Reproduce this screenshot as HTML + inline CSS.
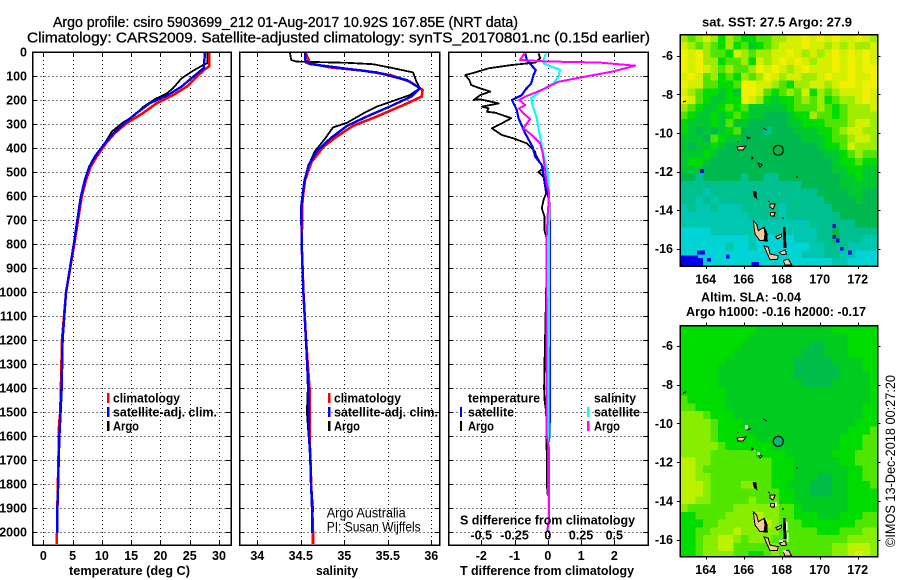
<!DOCTYPE html>
<html>
<head>
<meta charset="utf-8">
<title>Argo profile</title>
<style>
html,body{margin:0;padding:0;background:#fff;width:900px;height:580px;overflow:hidden}
svg{display:block}
text{font-family:"Liberation Sans",sans-serif;fill:#000}
.b{font-weight:bold;font-size:12.5px}
.t{font-size:14.5px;stroke:#000;stroke-width:.3px}
.r{font-size:13.5px}
.frame{fill:none;stroke:#000;stroke-width:1.5;shape-rendering:crispEdges}
</style>
</head>
<body>
<svg id="chart" xmlns="http://www.w3.org/2000/svg" width="900" height="580" viewBox="0 0 900 580">
  <text class="t" x="53" y="27" textLength="465" lengthAdjust="spacingAndGlyphs">Argo profile: csiro 5903699_212 01-Aug-2017 10.92S 167.85E (NRT data)</text>
  <text class="t" x="27" y="42.5" textLength="623" lengthAdjust="spacingAndGlyphs">Climatology: CARS2009. Satellite-adjusted climatology: synTS_20170801.nc (0.15d earlier)</text>

  <g id="panel-t"></g>
  <g id="panel-s"></g>
  <g id="panel-d"></g>
  <g id="map-sst"></g>
  <g id="map-sla"></g>

  <defs>
    <g id="islands" stroke="#000" stroke-width="1" fill="#f8c898" shape-rendering="crispEdges">
      <polygon points="753.3,221 756.7,224 758.3,230.7 764,227.3 766.7,232.3 767.3,240.7 760,240.7 755,234"/>
      <polygon fill="#000" points="764,227 766,232 767.3,241 764,241 765,234"/>
      <polygon points="764,245.7 768.3,247.3 770,254 778.3,255.7 777.3,259.7 770,259.7 766.7,252.3"/>
      <polygon points="775.7,236.7 781.7,234 781.7,236.7 777.3,239"/>
      <polygon fill="#000" points="783.3,227.3 785,227.3 786,247.3 784,247.3"/>
      <polygon points="779.3,252.3 785,250 786.7,254 781.7,254.7"/>
      <polygon points="783.3,260.7 788.3,259 791.7,265 785,265"/>
      <polygon points="770,204 775,204 773.3,209 770,207.3"/>
      <polygon points="770.7,212.3 775,212.3 774,216.3 770.7,215.7"/>
      <polygon fill="#000" points="753.3,191.7 755.7,191.7 756.7,198.3 754.3,196.3"/>
      <polygon points="758,163 762,165 760,167"/>
      <polygon points="752,157 753,158 752,159"/>
      <polygon points="737,147 746,146 743,150 738,150"/>
      <polygon fill="#000" points="747,137 750,138 748,139"/>
      <polyline points="763,128 767,130" fill="none"/>
      <polyline points="796,177 798,177" fill="none"/>
      <polyline points="683,102 686,101" fill="none"/>
      <polyline points="738,141 738,142" fill="none"/>
      <polyline points="768,201 770,202" fill="none"/>
      <polyline points="782,218 784,218" fill="none"/>
    </g>
  </defs>
  <use href="#islands"/>
  <use href="#islands" y="291"/>
  <g fill="#fff" shape-rendering="crispEdges">
    <rect x="745" y="425" width="3" height="4"/><rect x="757" y="452" width="3" height="3"/>
    <rect x="775" y="502" width="2" height="4"/><rect x="786" y="522" width="1.5" height="8"/>
    <rect x="787" y="533" width="1.5" height="9"/><rect x="779" y="540" width="4" height="2"/>
    <rect x="783" y="550" width="3" height="2"/>
  </g>
  <circle cx="778.3" cy="150.3" r="5" fill="none" stroke="#000" stroke-width="1.2"/>
  <circle cx="778.3" cy="441.3" r="5" fill="#00b878" stroke="#000" stroke-width="1.2"/>

  <g>
    <rect x="107" y="393" width="2.5" height="10" fill="#f00"/><rect x="107" y="407" width="2.5" height="10" fill="#00f"/><rect x="107" y="421" width="2.5" height="10" fill="#000"/>
    <text class="b" x="113" y="402.5" textLength="67" lengthAdjust="spacingAndGlyphs">climatology</text>
    <text class="b" x="113" y="416.5" textLength="104" lengthAdjust="spacingAndGlyphs">satellite-adj. clim.</text>
    <text class="b" x="113" y="430.5" textLength="26" lengthAdjust="spacingAndGlyphs">Argo</text>
  </g>
  <g>
    <rect x="328" y="393" width="2.5" height="10" fill="#f00"/><rect x="328" y="407" width="2.5" height="10" fill="#00f"/><rect x="328" y="421" width="2.5" height="10" fill="#000"/>
    <text class="b" x="334" y="402.5" textLength="67" lengthAdjust="spacingAndGlyphs">climatology</text>
    <text class="b" x="334" y="416.5" textLength="104" lengthAdjust="spacingAndGlyphs">satellite-adj. clim.</text>
    <text class="b" x="334" y="430.5" textLength="26" lengthAdjust="spacingAndGlyphs">Argo</text>
  </g>
  <g>
    <rect x="460" y="407" width="2" height="10" fill="#00f"/><rect x="460" y="421" width="2" height="10" fill="#000"/>
    <rect x="587" y="407" width="2.5" height="10" fill="#0ff"/><rect x="587" y="421" width="2.5" height="10" fill="#f0f"/>
    <text class="b" x="468" y="402.5" textLength="72" lengthAdjust="spacingAndGlyphs">temperature</text>
    <text class="b" x="468" y="416.5" textLength="46" lengthAdjust="spacingAndGlyphs">satellite</text>
    <text class="b" x="468" y="430.5" textLength="26" lengthAdjust="spacingAndGlyphs">Argo</text>
    <text class="b" x="594" y="402.5" textLength="42" lengthAdjust="spacingAndGlyphs">salinity</text>
    <text class="b" x="594" y="416.5" textLength="46" lengthAdjust="spacingAndGlyphs">satellite</text>
    <text class="b" x="594" y="430.5" textLength="26" lengthAdjust="spacingAndGlyphs">Argo</text>
  </g>
  <text class="r" x="326.7" y="517.5" textLength="79" lengthAdjust="spacingAndGlyphs">Argo Australia</text>
  <text class="r" x="326.7" y="531.5" textLength="94" lengthAdjust="spacingAndGlyphs">PI: Susan Wijffels</text>
  <text class="b" x="460" y="524.5" textLength="175" lengthAdjust="spacingAndGlyphs">S difference from climatology</text>
  <text class="b" x="69" y="575" textLength="121" lengthAdjust="spacingAndGlyphs">temperature (deg C)</text>
  <text class="b" x="316" y="575" textLength="42" lengthAdjust="spacingAndGlyphs">salinity</text>
  <text class="b" x="460" y="575" textLength="174" lengthAdjust="spacingAndGlyphs">T difference from climatology</text>
  <text class="b" x="702" y="26.5" textLength="150" lengthAdjust="spacingAndGlyphs">sat. SST: 27.5 Argo: 27.9</text>
  <text class="b" x="701" y="301.5" textLength="100" lengthAdjust="spacingAndGlyphs">Altim. SLA: -0.04</text>
  <text class="b" x="686" y="316" textLength="180" lengthAdjust="spacingAndGlyphs">Argo h1000: -0.16 h2000: -0.17</text>
  <text class="r" transform="translate(895,547) rotate(-90)" textLength="172" lengthAdjust="spacingAndGlyphs">©IMOS 13-Dec-2018 00:27:20</text>
</svg>
<script>
// ---- profile data (depth in dbar, temperature deg C, salinity psu) ----
const depthTicks = [0,100,200,300,400,500,600,700,800,900,1000,1100,1200,1300,1400,1500,1600,1700,1800,1900,2000];
const tempTicks = [0,5,10,15,20,25,30];
const salTicks = [34,34.5,35,35.5,36];
const salTickLabels = ['34','34.5','35','35.5','36'];
const diffTTicks = [-2,-1,0,1,2];
const diffSTicks = [-0.5,-0.25,0,0.25,0.5];
const diffSTickLabels = ['-0.5','-0.25','0','0.25','0.5'];

const climTempDepth = [0,60,75,103,144,179,213,255,297,338,380,436,478,533,603,800,1000,1200,1400,1500,1550,1600,1700,1800,1900,2000,2005,2050];
const climTemp = [28.3,28.3,27.4,26.2,24.5,22.2,19.4,17,14.2,12.2,10.7,9.1,8.1,7.3,6.55,5.3,3.9,3.2,3.0,2.9,2.7,2.65,2.6,2.5,2.4,2.4,2.3,2.3];
const satTempDepth = [0,67,103,144,179,213,255,297,338,380,436,478,533,603,800,1000,1200,1400,1500,1600,1700,1800,1900,2000,2005];
const satTemp = [27.6,27.4,25.6,23.6,21.3,18.2,15.9,13.8,12,10.5,8.8,7.85,7.1,6.4,5.2,3.9,3.3,3.15,2.95,2.75,2.63,2.55,2.4,2.4,2.4];
const argoTempDepth = [0,47,54,82,110,150,172,196,228,262,297,332,380,436,478,533,603,800,1000,1200,1400,1500,1600,1700,1800,1900,2000];
const argoTemp = [28,28,27.3,25.3,23.6,22.2,21.1,19.1,17.1,15.7,13.4,11.7,10.5,8.9,7.8,7.1,6.4,5.2,3.9,3.3,3.05,2.9,2.7,2.6,2.5,2.45,2.4];

const climSalDepth = [0,36,44,64,78,96,124,158,186,221,269,308,353,395,457,533,617,800,1000,1200,1400,1500,1600,1700,1800,1900,2000,2050];
const climSal = [34.55,34.594,34.56,34.84,35.22,35.53,35.755,35.9,35.89,35.68,35.37,35.1,34.91,34.76,34.625,34.55,34.52,34.51,34.53,34.56,34.6,34.6,34.6,34.61,34.62,34.63,34.64,34.64];
const satSalDepth = [0,33,50,68,85,117,151,186,228,262,308,360,415,471,540,644,800,1000,1200,1400,1500,1600,1700,1800,1900,2005];
const satSal = [34.55,34.55,34.6,34.99,35.37,35.72,35.87,35.77,35.52,35.3,35.03,34.84,34.68,34.59,34.54,34.505,34.51,34.53,34.56,34.586,34.594,34.594,34.61,34.617,34.63,34.63];
const argoSalDepth = [4,33,40,45,51,64,85,124,151,179,204,228,256,295,314,360,415,471,533,617,800,1000,1200,1400,1500,1600,1700,1800,1900,2000];
const argoSal = [34.376,34.39,34.45,35.03,35.33,35.52,35.79,35.83,35.87,35.755,35.56,35.37,35.22,35.03,34.87,34.78,34.66,34.59,34.54,34.51,34.51,34.53,34.56,34.58,34.57,34.59,34.61,34.62,34.64,34.63];

const diffArgoTDepth = [6,26,44,54,68,85,96,117,138,149,165,179,200,197,214,228,235,249,253,276,297,318,346,360,381,415,429,485,499,520,561,589,617,651,686,742,781,1000,1300,1400,1450,1500,1700,1800,1850];
const diffArgoT = [-0.28,-0.23,-0.38,-1.08,-1.78,-2.18,-2.48,-2.36,-2.3,-2.08,-1.73,-2.03,-2.23,-2.03,-1.48,-1.98,-1.78,-1.83,-1.58,-1.1,-1.38,-1.68,-1.38,-1.03,-0.63,-0.38,-0.36,-0.13,-0.28,-0.13,-0.08,-0.05,-0.13,-0.18,-0.1,-0.1,-0.03,-0.05,-0.1,-0.11,-0.1,-0.05,-0.03,-0.03,0];
const diffSatTDepth = [6,33,50,75,96,131,158,179,200,242,276,339,394,436,471,540,617,769,1400,1600,1650];
const diffSatT = [-0.68,-0.63,-0.53,-0.36,-0.43,-0.5,-0.68,-0.78,-1.08,-0.93,-0.88,-0.68,-0.46,-0.38,-0.18,-0.1,0.04,0.07,0.07,0.05,0];
const diffArgoSDepth = [6,33,39,44,57,82,100,124,158,186,200,221,235,256,279,318,346,381,422,492,547,589,672,769,1600,1650,1950,2000];
const diffArgoS = [-0.175,-0.208,-0.02,0.393,0.657,0.481,0.306,0.08,-0.045,-0.17,-0.216,-0.17,-0.216,-0.183,-0.133,-0.183,-0.12,-0.058,-0.038,-0.02,-0.008,0.01,0,-0.008,-0.008,0.008,0.008,-0.005];
const diffSatSDepth = [6,33,47,75,103,131,158,193,221,276,353,422,506,589,769,1400,2000];
const diffSatS = [-0.0125,-0.0326,-0.0326,0.093,0.08,0.043,-0.045,-0.125,-0.115,-0.083,-0.058,-0.033,0,0.01,0.01,0.005,0.005];

// ---- map data: levels on a 0.4 degree grid, 0 = coldest/lowest, a = warmest/highest ----
const mapLonTicks = [164,166,168,170,172];
const mapLatTicks = [-6,-8,-10,-12,-14,-16];
const sstPalette = ['#0000f0','#00d4d4','#00c8b0','#00c090','#00b850','#00c830','#00dc00','#50e400','#a0ec00','#d4f000','#f0f000'];
const slaPalette = ['#0000f0','#00d4d4','#00c8b0','#00c090','#00bc48','#00cc20','#00dc00','#50e600','#88ee00','#bcf200','#dcf400'];
const sstGrid = [
"8789868766778899a9a9a99a98",
"9878768675678999a998989889",
"a9a87769878899a98989a9a9a9",
"a9a8867786989a9a9899a9a9a9",
"a9a9878778a9a989a999a9a9aa",
"9a978676878a9899889a99a99a",
"a9977667aa99876889989aa9aa",
"98766565aa97678796878999a9",
"a9765566a986566787867889a9",
"87655676755555677787678889",
"76556567655444566877678888",
"65556575544444556667778998",
"65454567444344455566789988",
"55547655444444445556778998",
"54556544444444444456679888",
"55565444444444444445567877",
"56654444444444444444566766",
"55544444444444444444556655",
"44344444344334444444455655",
"33333333333333334444455555",
"33323333333333333344445544",
"33232333333333333334444544",
"23223222333332333333444444",
"22222222233332333333344444",
"22222222222222222333333444",
"11112222222222222233433333",
"11111111121111122233433322",
"11111121121111111223332222",
"11111111111111112223322111",
"00011111111111111111221111"];
const coldLon = [163.8,170.77,170.77,170.95,171.16,171.6,164.17,165.16,166.5,166.7,163.65,163.85,162.7,162.9,163.1,163.3,163.5];
const coldLat = [-11.97,-14.82,-15.38,-15.58,-16,-16.2,-16.57,-16.4,-16.78,-16.78,-16.2,-16.2,-16.45,-16.45,-16.45,-16.45,-16.45];
const slaGrid = [
"66666666665555555555666666",
"66666666655555555555556666",
"66666666555555555445556666",
"66666665555555554445556666",
"66666655555555544444555566",
"66666555555555544444455566",
"66666555555555544444455556",
"66666555555555554444555556",
"66666655555555555555555556",
"76666655555555555555555556",
"77666655555555555555555566",
"88876665555555555555555566",
"88887666555555555555555666",
"88887666655555555555556667",
"88887666665555555555566677",
"88888766666655555555566677",
"88887777776666555555666777",
"99887777777766655555566777",
"99877777777766655555556677",
"99887777777766655544556677",
"99987777887766555444556667",
"99987777777776655444556666",
"99887777787776655555556666",
"87777778888887765555556666",
"66777788889887766655566677",
"66677888889987776666666777",
"66778889888887777766677788",
"66788998788877777777778888",
"66788997777787777777889998",
"66788887766787777777889a98"];

// ---- axis functions ----
const NS = 'http://www.w3.org/2000/svg';
const depthY = d => 52 + 0.24 * d;
const tempX = t => 43.3 + 5.857 * t;
const salX = s => 257.3 + 87 * (s - 34);
const diffTX = t => 547.8 + 33.25 * t;
const diffSX = s => 547.8 + 133 * s;
const lonX = lon => 705.7 + 19 * (lon - 164);
const sstLatY = lat => 55.7 + 19.3 * (-6 - lat);
const slaLatY = lat => 345.7 + 19.4 * (-6 - lat);

function mk(parent, tag, attrs, txt) {
  const el = document.createElementNS(NS, tag);
  for (const k in attrs) el.setAttribute(k, attrs[k]);
  if (txt !== undefined) el.textContent = txt;
  parent.appendChild(el);
  return el;
}

function drawLine(parent, name, xs, ys, xf, color, width) {
  const pts = xs.map((v, i) => xf(v).toFixed(1) + ',' + depthY(ys[i]).toFixed(1)).join(' ');
  const el = mk(parent, 'polyline', {points: pts, fill: 'none', stroke: color, 'stroke-width': width, 'stroke-linejoin': 'round', 'shape-rendering': 'crispEdges'});
  
  
}

function drawProfileAxes(parent, left, right, xTicks, xf) {
  const top = 52, bottom = 545;
  const grid = mk(parent, 'g', {stroke: '#000', 'stroke-width': 1, 'stroke-dasharray': '1 3', 'shape-rendering': 'crispEdges'});
  
  
  const ticks = mk(parent, 'g', {stroke: '#000', 'stroke-width': 1, 'shape-rendering': 'crispEdges'});
  
  
  depthTicks.forEach(d => {
    const y = Math.round(depthY(d)) + 0.5;
    if (d > 0) mk(grid, 'line', {x1: left, x2: right, y1: y, y2: y});
    mk(ticks, 'line', {x1: left, x2: left + 5, y1: y, y2: y});
    mk(ticks, 'line', {x1: right - 5, x2: right, y1: y, y2: y});
  });
  xTicks.forEach(v => {
    const x = Math.round(xf(v)) + 0.5;
    mk(grid, 'line', {x1: x, x2: x, y1: top, y2: bottom});
    mk(ticks, 'line', {x1: x, x2: x, y1: top, y2: top + 5});
    mk(ticks, 'line', {x1: x, x2: x, y1: bottom - 5, y2: bottom});
  });
}

function drawFrame(parent, x, y, w, h) {
  const el = mk(parent, 'rect', {x: x, y: y, width: w, height: h, class: 'frame'});
  
  
}

function xTickLabels(parent, values, labels, xf, y) {
  values.forEach((v, i) => {
    const el = mk(parent, 'text', {x: xf(v), y: y, 'text-anchor': 'middle', class: 'b'}, labels[i]);
    
    
  });
}

// ---- temperature panel ----
const pT = document.getElementById('panel-t');
drawProfileAxes(pT, 32.5, 231, tempTicks, tempX);
drawLine(pT, 'climatology-temperature-line', climTemp, climTempDepth, tempX, '#f00', 2.6);
drawLine(pT, 'argo-temperature-line', argoTemp, argoTempDepth, tempX, '#000', 1.8);
drawLine(pT, 'satellite-temperature-line', satTemp, satTempDepth, tempX, '#00f', 2.4);
drawFrame(pT, 32.5, 52, 198.5, 493);
depthTicks.forEach(d => {
  const el = mk(pT, 'text', {x: 27, y: depthY(d) + 4.5, 'text-anchor': 'end', class: 'b'}, String(d));
  
  
});
xTickLabels(pT, tempTicks, tempTicks.map(String), tempX, 560);

// ---- salinity panel ----
const pS = document.getElementById('panel-s');
drawProfileAxes(pS, 239.5, 439.5, salTicks, salX);
drawLine(pS, 'climatology-salinity-line', climSal, climSalDepth, salX, '#f00', 2.6);
drawLine(pS, 'argo-salinity-line', argoSal, argoSalDepth, salX, '#000', 1.8);
drawLine(pS, 'satellite-salinity-line', satSal, satSalDepth, salX, '#00f', 2.4);
drawFrame(pS, 239.5, 52, 200, 493);
xTickLabels(pS, salTicks, salTickLabels, salX, 560);

// ---- difference panel ----
const pD = document.getElementById('panel-d');
drawProfileAxes(pD, 448.5, 648, diffTTicks, diffTX);
drawLine(pD, 'argo-temperature-difference-line', diffArgoT, diffArgoTDepth, diffTX, '#000', 1.8);
drawLine(pD, 'satellite-temperature-difference-line', diffSatT, diffSatTDepth, diffTX, '#00f', 2.2);
drawLine(pD, 'satellite-salinity-difference-line', diffSatS, diffSatSDepth, diffSX, '#0ff', 2.2);
drawLine(pD, 'argo-salinity-difference-line', diffArgoS, diffArgoSDepth, diffSX, '#f0f', 2);
drawFrame(pD, 448.5, 52, 199.5, 493);
xTickLabels(pD, diffTTicks, diffTTicks.map(String), diffTX, 560);
xTickLabels(pD, diffSTicks, diffSTickLabels, diffSX, 539.5);

// ---- maps ----
function drawMap(parent, grid, palette, latMax, latY, top, bottom) {
  const left = 680, right = 877.5, step = 0.4, lonMin = 162.65;
  const cells = mk(parent, 'g', {'shape-rendering': 'crispEdges'});
  
  
  grid.forEach((row, r) => {
    for (let c = 0; c < row.length; c++) {
      const x0 = lonX(lonMin + c * step), x1 = lonX(lonMin + (c + 1) * step);
      const y0 = latY(latMax - r * step), y1 = latY(latMax - (r + 1) * step);
      const cell = mk(cells, 'rect', {x: x0, y: y0, width: Math.min(x1, right) - x0 + 0.4, height: Math.min(y1, bottom) - y0 + 0.4, fill: palette[parseInt(row[c], 16)]});
      
      
    }
  });
  const frame = mk(parent, 'rect', {x: left, y: top, width: right - left, height: bottom - top, class: 'frame'});
  
  
  const ticks = mk(parent, 'g', {stroke: '#000', 'stroke-width': 1, 'shape-rendering': 'crispEdges'});
  
  
  mapLonTicks.forEach(lon => {
    const x = Math.round(lonX(lon)) + 0.5;
    mk(ticks, 'line', {x1: x, x2: x, y1: top - 3, y2: top});
    mk(ticks, 'line', {x1: x, x2: x, y1: bottom, y2: bottom + 3});
    const t = mk(parent, 'text', {x: lonX(lon), y: bottom + 17.5, 'text-anchor': 'middle', class: 'b'}, String(lon));
    
    
  });
  mapLatTicks.forEach(lat => {
    const y = Math.round(latY(lat)) + 0.5;
    mk(ticks, 'line', {x1: left - 3, x2: left, y1: y, y2: y});
    mk(ticks, 'line', {x1: right, x2: right + 3, y1: y, y2: y});
    const t = mk(parent, 'text', {x: 673, y: latY(lat) + 4.5, 'text-anchor': 'end', class: 'b'}, String(lat));
    
    
  });
}
const mSst = document.getElementById('map-sst');
drawMap(mSst, sstGrid, sstPalette, -4.89, sstLatY, 34.5, 266);
coldLon.forEach((lon, i) => {
  const el = mk(mSst, 'rect', {x: Math.max(lonX(lon) - 1.9, 680.5), y: sstLatY(coldLat[i]) - 1.9, width: 3.8, height: 3.8, fill: sstPalette[0], 'shape-rendering': 'crispEdges'});
  
  
});
const mSla = document.getElementById('map-sla');
drawMap(mSla, slaGrid, slaPalette, -4.97, slaLatY, 325.5, 556.5);
</script>
</body>
</html>
